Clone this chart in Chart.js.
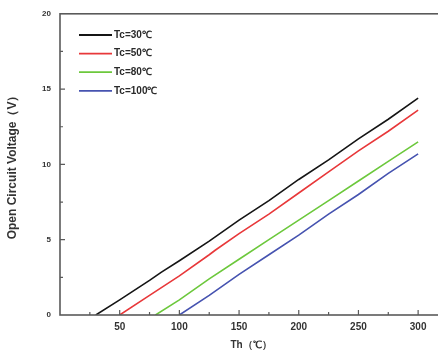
<!DOCTYPE html>
<html>
<head>
<meta charset="utf-8">
<script src="https://cdn.jsdelivr.net/npm/chart.js@4/dist/chart.umd.min.js"></script>
<style>
  html, body { margin: 0; padding: 0; background: #fff; overflow: hidden; width: 438px; height: 356px; }
  #wrap { position: relative; width: 446px; height: 356px; }
</style>
</head>
<body>
<div id="wrap"><canvas id="c"></canvas></div>
<script>
// Hot-side temperature Th (°C) and open circuit voltage (V) for each cold-side temperature Tc
const seriesLabels = ['Tc=30\u2103', 'Tc=50\u2103', 'Tc=80\u2103', 'Tc=100\u2103'];

const th30 = [30, 50, 75, 85, 100, 125, 150, 175, 200, 225, 250, 275, 300];
const voc30 = [0, 1.0, 2.3, 2.85, 3.6, 4.9, 6.3, 7.6, 9.0, 10.3, 11.7, 13.0, 14.4];

const th50 = [50, 75, 100, 125, 130, 150, 175, 200, 225, 250, 275, 300];
const voc50 = [0, 1.3, 2.6, 4.0, 4.3, 5.4, 6.7, 8.1, 9.5, 10.9, 12.2, 13.6];

const th80 = [80, 100, 125, 150, 175, 200, 225, 250, 275, 300];
const voc80 = [0, 1.0, 2.4, 3.7, 5.0, 6.3, 7.6, 8.9, 10.2, 11.5];

const th100 = [100, 125, 150, 175, 200, 225, 250, 275, 300];
const voc100 = [0, 1.3, 2.7, 4.0, 5.3, 6.7, 8.0, 9.4, 10.7];

const xTickValues = [50, 100, 150, 200, 250, 300];
const yTickValues = [0, 5, 10, 15, 20];

const lineColors = ['#151515', '#e8383a', '#6cc83c', '#4653b0'];

function pairs(xs, ys) { return xs.map((x, i) => ({ x: x, y: ys[i] })); }

const allSeries = [[th30, voc30], [th50, voc50], [th80, voc80], [th100, voc100]];

const datasets = allSeries.map((s, i) => ({
  label: seriesLabels[i],
  data: pairs(s[0], s[1]),
  borderColor: lineColors[i],
  backgroundColor: lineColors[i],
  borderWidth: 1.6,
  pointRadius: 0,
  tension: 0,
  fill: false
}));

const FONT = '"Liberation Sans", Arial, sans-serif';
const AXIS_COLOR = '#5a5a5a';

// Frame, inward tick marks and the in-plot legend
const framePlugin = {
  id: 'frame',
  afterDatasetsDraw(chart) {
    const { ctx, chartArea: a, scales } = chart;
    const xs = scales.x, ys = scales.y;
    ctx.save();
    ctx.strokeStyle = AXIS_COLOR;
    ctx.lineWidth = 1.6;
    ctx.strokeRect(a.left, a.top, a.right - a.left, a.bottom - a.top);

    ctx.lineWidth = 1.2;
    ctx.beginPath();
    for (let v = 25; v < xs.max; v += 25) {
      const px = xs.getPixelForValue(v);
      const len = (v % 50 === 0) ? 5 : 3;
      ctx.moveTo(px, a.bottom); ctx.lineTo(px, a.bottom - len);
    }
    for (let v = 2.5; v < ys.max; v += 2.5) {
      const py = ys.getPixelForValue(v);
      const len = (v % 5 === 0) ? 5 : 3;
      ctx.moveTo(a.left, py); ctx.lineTo(a.left + len, py);
    }
    ctx.stroke();

    // legend
    const lx0 = 79, lx1 = 112, ly0 = 35, dy = 18.6;
    ctx.font = 'bold 10px ' + FONT;
    ctx.textBaseline = 'middle';
    ctx.textAlign = 'left';
    chart.data.datasets.forEach((d, i) => {
      const y = ly0 + i * dy;
      ctx.strokeStyle = d.borderColor;
      ctx.lineWidth = 1.8;
      ctx.beginPath(); ctx.moveTo(lx0, y); ctx.lineTo(lx1, y); ctx.stroke();
      ctx.fillStyle = '#2a2a2a';
      ctx.fillText(d.label, lx1 + 2, y);
    });
    ctx.restore();
  }
};

new Chart(document.getElementById('c'), {
  type: 'line',
  data: { datasets: datasets },
  options: {
    responsive: true,
    maintainAspectRatio: false,
    animation: false,
    layout: { padding: { top: 10, right: 4, left: 0, bottom: 5 } },
    plugins: { legend: { display: false }, tooltip: { enabled: false } },
    scales: {
      x: {
        type: 'linear',
        min: 0,
        max: 320,
        afterBuildTicks(scale) { scale.ticks = xTickValues.map(v => ({ value: v })); },
        afterFit(scale) { scale.height = 36; },
        grid: { display: false, drawTicks: false },
        border: { display: false },
        ticks: {
          padding: 6,
          color: '#333',
          font: { family: FONT, size: 10, weight: 'bold' },
          maxRotation: 0
        },
        title: {
          display: true,
          text: 'Th\uff08\u2103\uff09',
          color: '#333',
          font: { family: FONT, size: 10, weight: 'bold' },
          padding: { top: 2, bottom: 0 }
        }
      },
      y: {
        type: 'linear',
        min: 0,
        max: 20,
        afterBuildTicks(scale) { scale.ticks = yTickValues.map(v => ({ value: v })); },
        afterFit(scale) { scale.width = 60; },
        grid: { display: false, drawTicks: false },
        border: { display: false },
        ticks: {
          padding: 9,
          color: '#333',
          font: { family: FONT, size: 8, weight: 'bold' }
        },
        title: {
          display: true,
          text: 'Open Circuit Voltage\uff08V\uff09',
          color: '#333',
          font: { family: FONT, size: 12, weight: 'bold' },
          padding: { top: 5, bottom: 0 }
        }
      }
    }
  },
  plugins: [framePlugin]
});
</script>
</body>
</html>
